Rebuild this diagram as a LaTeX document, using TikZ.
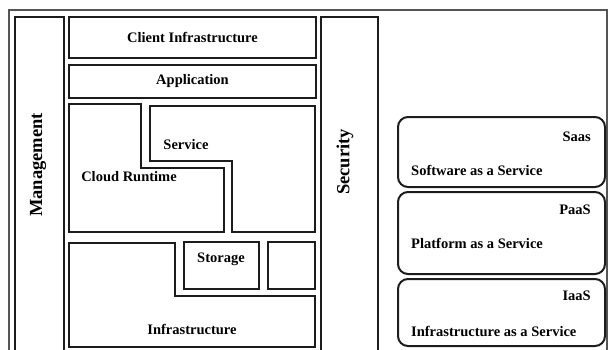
\documentclass[tikz,border=0pt]{standalone}
\usepackage{fontspec}
\setmainfont{Liberation Serif}
\usepackage{xcolor}
\definecolor{blk00}{HTML}{1C1C1C}
\definecolor{gry00}{HTML}{555555}
\usetikzlibrary{positioning}
\tikzstyle{wall} = [draw=blk00, line width=2pt, line join=miter]
\tikzstyle{layer} = [rectangle, wall, inner sep=0pt, font=\bfseries\fontsize{14.5}{17}\selectfont]
\tikzstyle{model} = [rectangle, draw=blk00, line width=2pt, rounded corners=10pt, minimum width=207pt, inner sep=0pt]
\tikzstyle{lbl} = [inner sep=0pt, font=\bfseries\fontsize{14.5}{17}\selectfont]
\tikzstyle{side} = [inner sep=0pt, rotate=90, font=\bfseries\fontsize{18.5}{21}\selectfont]

\begin{document}
\begin{tikzpicture}[x=1pt,y=-1pt]
    \useasboundingbox (0,0) rectangle (608,349);
    \clip (0,0) rectangle (608,349);
    \draw [gry00, line width=1.3pt] (9,10) rectangle (607,360);
    % side columns
    \node (mgmt)[layer, minimum width=49pt, minimum height=340pt] at (39.5,187) {};
    \node (mgmt_t)[side] at (38,165) {Management};
    \node (sec)[layer, minimum width=57pt, minimum height=340pt] at (349.5,187) {};
    \node (sec_t)[side] at (345,162) {Security};
    % stack
    \node (client)[layer, minimum width=247pt, minimum height=41pt] at (192.5,37.5) {Client Infrastructure};
    \node (app)[layer, minimum width=247pt, minimum height=33pt] at (192.5,81.5) {Application};
    \draw [wall] (69,104) -- (141,104) -- (141,168) -- (224,168) -- (224,232) -- (69,232) -- cycle;
    \node (runtime)[lbl] at (129,177) {Cloud Runtime};
    \draw [wall] (150,106) -- (315,106) -- (315,232) -- (232,232) -- (232,161) -- (150,161) -- cycle;
    \node (service)[lbl] at (186,145) {Service};
    \node (storage)[layer, minimum width=75pt, minimum height=47pt] at (221.5,265.5) {};
    \node (storage_t)[lbl] at (221,259) {Storage};
    \node (spare)[layer, minimum width=47pt, minimum height=47pt] at (291.5,265.5) {};
    \draw [wall] (69,243) -- (175,243) -- (175,296) -- (315,296) -- (315,347) -- (69,347) -- cycle;
    \node (infra)[lbl] at (192,329) {Infrastructure};
    % service models
    \node (saas)[model, minimum height=70pt] at (501.5,152) {};
    \node (saas_a)[lbl, anchor=east] at (591,137) {Saas};
    \node (saas_b)[lbl, anchor=west] at (411,170) {Software as a Service};
    \node (paas)[model, minimum height=82pt] at (501.5,233) {};
    \node (paas_a)[lbl, anchor=east] at (591,210) {PaaS};
    \node (paas_b)[lbl, anchor=west] at (411,243) {Platform as a Service};
    \node (iaas)[model, minimum height=67pt] at (501.5,312.5) {};
    \node (iaas_a)[lbl, anchor=east] at (591,296) {IaaS};
    \node (iaas_b)[lbl, anchor=west] at (411,331) {Infrastructure as a Service};
\end{tikzpicture}
\end{document}
